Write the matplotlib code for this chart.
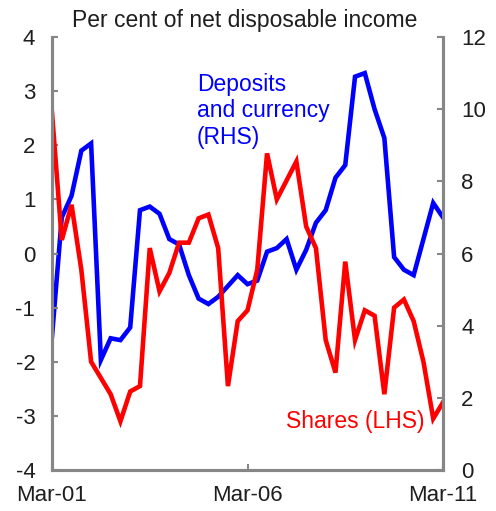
import numpy as np
import matplotlib
matplotlib.use('Agg')
import matplotlib.pyplot as plt

plt.rcParams['font.family'] = ['Liberation Sans', 'DejaVu Sans']
plt.rcParams['axes.unicode_minus'] = False

# quarterly, Mar-01 .. Mar-11
quarters = np.arange(41)
xtick_pos = [0, 20, 40]
xtick_labels = ['Mar-01', 'Mar-06', 'Mar-11']

# Shares, per cent of net disposable income (LHS)
shares = [2.6, 0.25, 0.9, -0.3, -2.0, -2.3, -2.6, -3.1, -2.55, -2.45,
          0.1, -0.7, -0.36, 0.2, 0.2, 0.65, 0.72, 0.1, -2.45, -1.25,
          -1.05, -0.3, 1.85, 1.0, 1.35, 1.7, 0.5, 0.1, -1.6, -2.2,
          -0.15, -1.6, -1.05, -1.15, -2.6, -1.0, -0.85, -1.25, -2.0, -3.05,
          -2.75]
# Deposits and currency (RHS)
deposits = [3.7, 7.0, 7.6, 8.85, 9.05, 3.05, 3.65, 3.6, 3.95, 7.2,
            7.3, 7.1, 6.4, 6.25, 5.4, 4.75, 4.6, 4.8, 5.1, 5.4,
            5.15, 5.25, 6.05, 6.15, 6.4, 5.55, 6.1, 6.85, 7.2, 8.1,
            8.45, 10.9, 11.0, 10.0, 9.2, 5.9, 5.55, 5.4, 6.4, 7.4,
            7.0]

GREY = '#868686'

fig = plt.figure(figsize=(4.96, 5.11), dpi=100)
ax = fig.add_axes([52/496, 41/511, 391/496, 433/511])
ax2 = ax.twinx()
ax.set_zorder(ax2.get_zorder() + 1)
ax.patch.set_visible(False)

ax2.plot(quarters, deposits, color='#0000ff', lw=3.3, solid_joinstyle='miter')
ax.plot(quarters, shares, color='#ff0000', lw=3.3, solid_joinstyle='miter')

ax.set_xlim(0, 40)
ax.set_ylim(-4, 4)
ax2.set_ylim(0, 12)
ax.set_yticks(range(-4, 5))
ax2.set_yticks(range(0, 13, 2))
ax.set_xticks(xtick_pos)
ax.set_xticklabels(xtick_labels)

for a in (ax, ax2):
    a.spines['top'].set_visible(False)
    for s in ('left', 'right', 'bottom'):
        a.spines[s].set_color(GREY)
        a.spines[s].set_linewidth(2.2)
    a.tick_params(direction='in', length=4, width=1.5, color=GREY,
                  labelsize=16, labelcolor='#1e1e1e')
ax.tick_params(axis='y', pad=12)
ax.tick_params(axis='x', pad=11)
ax2.tick_params(axis='y', pad=13)

ax.text(0.371, 0.918, 'Deposits\nand currency\n(RHS)', transform=ax.transAxes,
        ha='left', va='top', color='#0000ff', fontsize=16.5, linespacing=1.2)
ax.text(0.775, 0.111, 'Shares (LHS)', transform=ax.transAxes,
        ha='center', va='center', color='#ff0000', fontsize=16.5)

fig.text(245/496, 1 - 20/511, 'Per cent of net disposable income',
         ha='center', va='center', fontsize=16.5, color='#1e1e1e')

fig.savefig('out.png', dpi=100)
